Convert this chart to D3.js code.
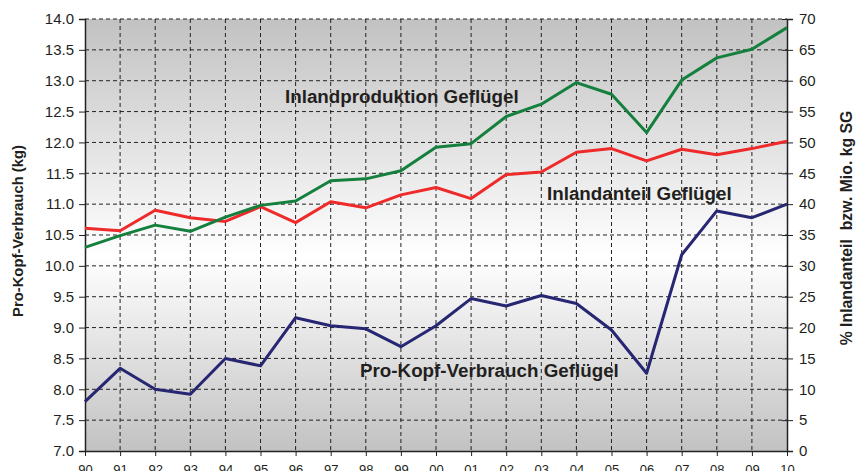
<!DOCTYPE html>
<html>
<head>
<meta charset="utf-8">
<script src="https://cdn.jsdelivr.net/npm/d3@7"></script>
<style>
  body { margin: 0; background: #fff; }
  svg { font-family: Arial, "Liberation Sans", sans-serif; }
</style>
</head>
<body>
<div id="chart"></div>
<script>
// data
const years = ["90","91","92","93","94","95","96","97","98","99","00","01","02","03","04","05","06","07","08","09","10"];
// Pro-Kopf-Verbrauch Geflügel (kg, left axis)
const proKopf = [7.80, 8.34, 8.00, 7.92, 8.50, 8.38, 9.16, 9.03, 8.98, 8.69, 9.03, 9.47, 9.35, 9.52, 9.39, 8.96, 8.26, 10.18, 10.89, 10.78, 11.00];
// Inlandanteil Geflügel (%, right axis)
const inlandanteil = [36.1, 35.7, 39.0, 37.8, 37.2, 39.6, 37.0, 40.4, 39.4, 41.5, 42.7, 40.9, 44.8, 45.2, 48.4, 49.0, 47.0, 48.9, 48.0, 49.0, 50.2];
// Inlandproduktion Geflügel (Mio. kg SG, right axis)
const inlandproduktion = [33.0, 34.9, 36.6, 35.6, 37.9, 39.8, 40.5, 43.8, 44.1, 45.4, 49.2, 49.8, 54.2, 56.2, 59.7, 57.8, 51.6, 60.1, 63.7, 65.1, 68.6];

const leftTicks = d3.range(7, 14.01, 0.5);
const rightTicks = d3.range(0, 70.1, 5);

const width = 861, height = 471;
const margin = { top: 19, right: 74, bottom: 20, left: 85 };
const textColor = "#231f20";

const svg = d3.select("#chart").append("svg")
  .attr("width", width)
  .attr("height", height);

const x = d3.scalePoint()
  .domain(years)
  .range([margin.left, width - margin.right]);

const yL = d3.scaleLinear().domain([7, 14]).range([height - margin.bottom, margin.top]);
const yR = d3.scaleLinear().domain([0, 70]).range([height - margin.bottom, margin.top]);

const x0 = margin.left, x1 = width - margin.right;
const yTop = margin.top, yBot = height - margin.bottom;

// background gradient
const grad = svg.append("defs").append("linearGradient")
  .attr("id", "bg").attr("x1", 0).attr("y1", 0).attr("x2", 0).attr("y2", 1);
grad.append("stop").attr("offset", "0%").attr("stop-color", "#c2c2c2");
grad.append("stop").attr("offset", "55%").attr("stop-color", "#ffffff");
grad.append("stop").attr("offset", "100%").attr("stop-color", "#c2c2c2");

svg.append("rect")
  .attr("x", x0).attr("y", yTop)
  .attr("width", x1 - x0).attr("height", yBot - yTop)
  .attr("fill", "url(#bg)");

// grid
svg.append("g").selectAll("line")
  .data(leftTicks.slice(1))
  .join("line")
  .attr("x1", x0).attr("x2", x1)
  .attr("y1", d => yL(d)).attr("y2", d => yL(d))
  .attr("stroke", "#222").attr("stroke-width", 1)
  .attr("stroke-dasharray", "4,3");

svg.append("g").selectAll("line")
  .data(years.slice(1, -1))
  .join("line")
  .attr("x1", d => x(d)).attr("x2", d => x(d))
  .attr("y1", yTop).attr("y2", yBot)
  .attr("stroke", "#222").attr("stroke-width", 1)
  .attr("stroke-dasharray", "4,3");

// axes
const leftAxis = svg.append("g")
  .attr("transform", `translate(${x0},0)`)
  .call(d3.axisLeft(yL).tickValues(leftTicks).tickFormat(d3.format(".1f")).tickSize(6).tickPadding(5));

const rightAxis = svg.append("g")
  .attr("transform", `translate(${x1},0)`)
  .call(d3.axisRight(yR).tickValues(rightTicks).tickFormat(d3.format("d")).tickSize(6).tickPadding(6));

const bottomAxis = svg.append("g")
  .attr("transform", `translate(0,${yBot})`)
  .call(d3.axisBottom(x).tickSize(5).tickPadding(9));

[leftAxis, rightAxis, bottomAxis].forEach(g => {
  g.select(".domain").attr("stroke", "#222").attr("stroke-width", 1.5);
  g.selectAll(".tick line").attr("stroke", "#222");
  g.selectAll("text")
    .attr("fill", textColor)
    .style("font-size", "15px")
    .style("font-family", "Arial, 'Liberation Sans', sans-serif");
});
bottomAxis.selectAll("text").style("font-size", "13px");
rightAxis.selectAll(".tick line").attr("x1", -5);
bottomAxis.select(".domain").attr("d", `M${x0},0.5H${x1}`);

// axis titles
svg.append("text")
  .attr("transform", `translate(23,${231}) rotate(-90)`)
  .attr("text-anchor", "middle")
  .attr("fill", textColor)
  .style("font-size", "14.8px").style("font-weight", "bold")
  .text("Pro-Kopf-Verbrauch (kg)");

svg.append("text")
  .attr("transform", `translate(852,${228}) rotate(-90)`)
  .attr("text-anchor", "middle")
  .attr("fill", textColor)
  .attr("xml:space", "preserve")
  .style("white-space", "pre")
  .style("font-size", "15.8px").style("font-weight", "bold")
  .text("% Inlandanteil  bzw. Mio. kg SG");

// lines
const lineL = d3.line().x((d, i) => x(years[i])).y(d => yL(d));
const lineR = d3.line().x((d, i) => x(years[i])).y(d => yR(d));

const series = [
  { values: inlandanteil, line: lineR, color: "#ee2a2a" },
  { values: inlandproduktion, line: lineR, color: "#15803d" },
  { values: proKopf, line: lineL, color: "#262673" }
];

svg.append("g").selectAll("path")
  .data(series)
  .join("path")
  .attr("d", d => d.line(d.values))
  .attr("fill", "none")
  .attr("stroke", d => d.color)
  .attr("stroke-width", 3)
  .attr("stroke-linejoin", "round");

// series labels
const labels = [
  { text: "Inlandproduktion Geflügel", x: 285, y: 103 },
  { text: "Inlandanteil Geflügel", x: 547, y: 200 },
  { text: "Pro-Kopf-Verbrauch Geflügel", x: 360, y: 377 }
];
svg.append("g").selectAll("text")
  .data(labels)
  .join("text")
  .attr("x", d => d.x).attr("y", d => d.y)
  .attr("fill", textColor)
  .style("font-size", "18.8px").style("font-weight", "bold")
  .text(d => d.text);
</script>
</body>
</html>
